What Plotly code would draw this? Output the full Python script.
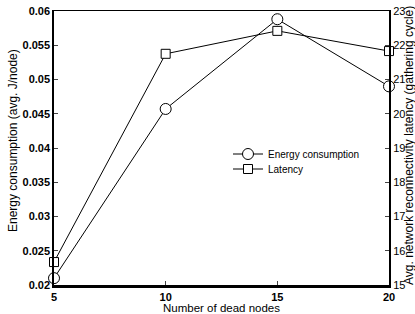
import plotly.graph_objects as go

dead_nodes = [5, 10, 15, 20]
energy = [0.021, 0.0457, 0.0588, 0.049]
latency = [15.67, 21.75, 22.42, 21.83]
x_ticks = [5, 10, 15, 20]
left_ticks = [0.02, 0.025, 0.03, 0.035, 0.04, 0.045, 0.05, 0.055, 0.06]
left_labels = ["0.02", "0.025", "0.03", "0.035", "0.04", "0.045", "0.05", "0.055", "0.06"]
right_ticks = [15, 16, 17, 18, 19, 20, 21, 22, 23]

FONT = "Liberation Sans, Arial, sans-serif"
W, H = 415, 314
L, R, T, B = 54, 26, 11, 29
PW, PH = W - L - R, H - T - B


def px_x(xw):
    return (xw - L) / PW


def px_y(yw):
    return (H - B - yw) / PH


fig = go.Figure()
fig.add_trace(go.Scatter(
    x=dead_nodes, y=energy, name="Energy consumption", mode="lines+markers",
    line=dict(color="black", width=1), legend="legend",
    marker=dict(symbol="circle", size=11, color="white", line=dict(color="black", width=1)),
    cliponaxis=False,
))
fig.add_trace(go.Scatter(
    x=dead_nodes, y=latency, name="Latency", mode="lines+markers", yaxis="y2",
    line=dict(color="black", width=1), legend="legend2",
    marker=dict(symbol="square", size=9, color="white", line=dict(color="black", width=1)),
    cliponaxis=False,
))
fig.add_trace(go.Scatter(x=[5], y=[0.06], xaxis="x2", showlegend=False,
                         mode="markers", marker=dict(opacity=0), hoverinfo="skip"))

leg_common = dict(xanchor="left", yanchor="middle", bgcolor="rgba(0,0,0,0)", borderwidth=0,
                  font=dict(size=10), itemwidth=30)

fig.update_layout(
    width=W, height=H,
    margin=dict(l=L, r=R, t=T, b=B, autoexpand=False),
    paper_bgcolor="white", plot_bgcolor="white",
    font=dict(family=FONT, size=11, color="black"),
    showlegend=True,
    legend=dict(x=px_x(228), y=px_y(154), **leg_common),
    legend2=dict(x=px_x(228), y=px_y(169), **leg_common),
    xaxis=dict(range=[5, 20], tickvals=x_ticks, ticks="inside", ticklen=4,
               tickfont=dict(size=11, weight="bold"), automargin=False,
               ticklabeloverflow="allow",
               showgrid=False, zeroline=False, showline=True, linecolor="black",
               linewidth=2.5),
    xaxis2=dict(overlaying="x", side="top", range=[5, 20], showticklabels=False,
                showline=True, linecolor="black", linewidth=1.2, showgrid=False,
                zeroline=False, ticks="", automargin=False),
    yaxis=dict(range=[0.02, 0.06], tickvals=left_ticks, ticktext=left_labels,
               ticks="inside", ticklen=4, tickfont=dict(size=11, weight="bold"),
               ticklabeloverflow="allow",
               showgrid=False, zeroline=False, showline=True, linecolor="black",
               linewidth=1.5, automargin=False),
    yaxis2=dict(range=[15, 23], tickvals=right_ticks, overlaying="y", side="right",
                ticks="inside", ticklen=4, tickfont=dict(size=11),
                ticklabeloverflow="allow",
                showgrid=False, zeroline=False, showline=True, linecolor="black",
                linewidth=2, automargin=False),
    annotations=[
        dict(text="Number of dead nodes", xref="paper", yref="paper",
             x=0.5, y=px_y(308), xanchor="center", yanchor="middle",
             showarrow=False, font=dict(size=11.5)),
        dict(text="Energy consumption (avg. J/node)", xref="paper", yref="paper",
             x=px_x(13), y=px_y(141), xanchor="center", yanchor="middle",
             textangle=-90, showarrow=False, font=dict(size=12)),
        dict(text="Avg. network reconnectivity latency (gathering cycle)",
             xref="paper", yref="paper",
             x=px_x(409), y=px_y(146), xanchor="center", yanchor="middle",
             textangle=-90, showarrow=False, font=dict(size=12)),
    ],
)

# remove the default page margin so the 415x314 figure fills the window exactly
fig.write_html(
    "out.html",
    config={"displayModeBar": False},
    post_script="document.body.style.margin='0';document.body.style.overflow='hidden';",
)
